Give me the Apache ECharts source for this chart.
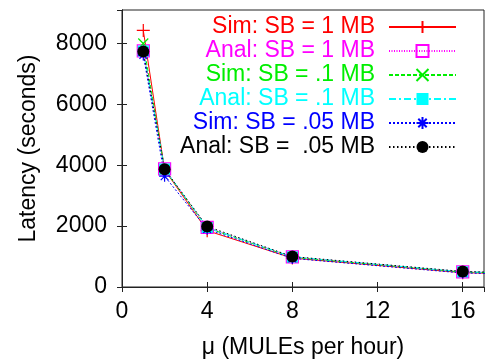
<!DOCTYPE html>
<html>
<head>
<meta charset="utf-8">
<script src="https://cdn.jsdelivr.net/npm/echarts@6/dist/echarts.min.js"></script>
<style>
  html, body { margin: 0; padding: 0; background: #fff; }
  #chart { width: 486px; height: 361px; }
</style>
</head>
<body>
<div id="chart"></div>
<script>
// Mule arrival rate (MULEs per hour)
const mu = [1, 2, 4, 8, 16, 32];

// Latency in seconds for each buffer size, simulated vs analytical
const simSB1 = [8430, 3850, 1850, 950, 470, 240];
const analSB1 = [7760, 3880, 1960, 990, 500, 250];
const simSB01 = [8000, 3860, 1940, 975, 490, 245];
const analSB01 = [7750, 3875, 1955, 990, 500, 250];
const simSB005 = [7620, 3640, 1900, 940, 460, 235];
const analSB005 = [7740, 3870, 1990, 1000, 510, 255];

const seriesNames = [
  'Sim: SB = 1 MB',
  'Anal: SB = 1 MB',
  'Sim: SB = .1 MB',
  'Anal: SB = .1 MB',
  'Sim: SB = .05 MB',
  'Anal: SB =  .05 MB'
];

const xTicks = [0, 4, 8, 12, 16];
const yTicks = [0, 2000, 4000, 6000, 8000];

const FONT = 'Liberation Sans, Arial, Helvetica, sans-serif';

const PLUS = 'path://M0,5L10,5M5,0L5,10';
const CROSS = 'path://M0,0L10,10M10,0L0,10';
const STAR = 'path://M5,0L5,10M0,5L10,5M1.5,1.5L8.5,8.5M8.5,1.5L1.5,8.5';

function pairs(ys) {
  return mu.map((x, i) => [x, ys[i]]);
}

function makeSeries(name, ys, color, lineType, symbol, size, filled) {
  return {
    name: name,
    type: 'line',
    data: pairs(ys),
    symbol: symbol,
    symbolSize: size,
    showAllSymbol: true,
    clip: true,
    lineStyle: { color: color, width: 1, type: lineType },
    itemStyle: filled
      ? { color: color, borderColor: color, borderWidth: 0 }
      : { color: 'rgba(0,0,0,0)', borderColor: color, borderWidth: 1.2 },
    emphasis: { disabled: true },
    animation: false
  };
}

const colors = ['#ff0000', '#ff00ff', '#00ee00', '#00ffff', '#0000ff', '#000000'];

const series = [
  makeSeries(seriesNames[0], simSB1, colors[0], 'solid', PLUS, 13, false),
  makeSeries(seriesNames[1], analSB1, colors[1], [1, 1.5], 'rect', 12, false),
  makeSeries(seriesNames[2], simSB01, colors[2], [4, 2], CROSS, 10, false),
  makeSeries(seriesNames[3], analSB01, colors[3], [7, 3, 2, 3], 'rect', 11, true),
  makeSeries(seriesNames[4], simSB005, colors[4], [2, 2], STAR, 11, false),
  makeSeries(seriesNames[5], analSB005, colors[5], [1.5, 2.5], 'circle', 12, true)
];

const axisLineStyle = { color: '#222', width: 1 };

const chart = echarts.init(document.getElementById('chart'), null, { renderer: 'canvas' });
chart.setOption({
  backgroundColor: '#fff',
  animation: false,
  textStyle: { fontFamily: FONT },
  grid: {
    left: 122, right: 2, top: 10, bottom: 74,
    containLabel: false,
    outerBoundsMode: 'none',
    show: true, borderColor: '#222', borderWidth: 1, backgroundColor: 'transparent'
  },
  legend: {
    orient: 'vertical',
    right: 29,
    top: 15,
    padding: 0,
    align: 'right',
    itemWidth: 67,
    itemHeight: 15,
    itemGap: 0,
    textStyle: { fontSize: 23, fontFamily: FONT, lineHeight: 24, padding: [0, 9, 0, 0] },
    data: seriesNames.map((n, i) => ({ name: n, textStyle: { color: colors[i] } })),
    selectedMode: false
  },
  xAxis: [
    {
      type: 'value', min: 0, max: 17, interval: 4, position: 'bottom',
      axisLine: { show: true, lineStyle: axisLineStyle },
      axisTick: { show: true, inside: true, length: 5, lineStyle: axisLineStyle },
      splitLine: { show: false },
      axisLabel: {
        showMaxLabel: false, fontSize: 23, color: '#000', fontFamily: FONT, margin: 13,
        formatter: v => (xTicks.indexOf(v) >= 0 ? String(v) : '')
      },
      name: 'μ (MULEs per hour)', nameLocation: 'middle', nameGap: 49,
      nameTextStyle: { fontSize: 23, color: '#000', fontFamily: FONT }
    },
    {
      type: 'value', min: 0, max: 17, interval: 4, position: 'top',
      axisLine: { show: true, lineStyle: axisLineStyle },
      axisTick: { show: true, inside: true, length: 5, lineStyle: axisLineStyle },
      splitLine: { show: false },
      axisLabel: { show: false }
    }
  ],
  yAxis: [
    {
      type: 'value', min: 0, max: 9100, interval: 2000, position: 'left',
      axisLine: { show: true, lineStyle: axisLineStyle },
      axisTick: { show: true, inside: true, length: 5, lineStyle: axisLineStyle },
      splitLine: { show: false },
      axisLabel: {
        showMaxLabel: false, fontSize: 23, color: '#000', fontFamily: FONT, margin: 15,
        formatter: v => (yTicks.indexOf(v) >= 0 ? String(v) : '')
      },
      name: 'Latency (seconds)', nameLocation: 'middle', nameGap: 82, nameRotate: 90,
      nameTextStyle: { fontSize: 23, color: '#000', fontFamily: FONT }
    },
    {
      type: 'value', min: 0, max: 9100, interval: 2000, position: 'right',
      axisLine: { show: true, lineStyle: axisLineStyle },
      axisTick: { show: true, inside: true, length: 5, lineStyle: axisLineStyle },
      splitLine: { show: false },
      axisLabel: { show: false }
    }
  ],
  series: series
});
</script>
</body>
</html>
